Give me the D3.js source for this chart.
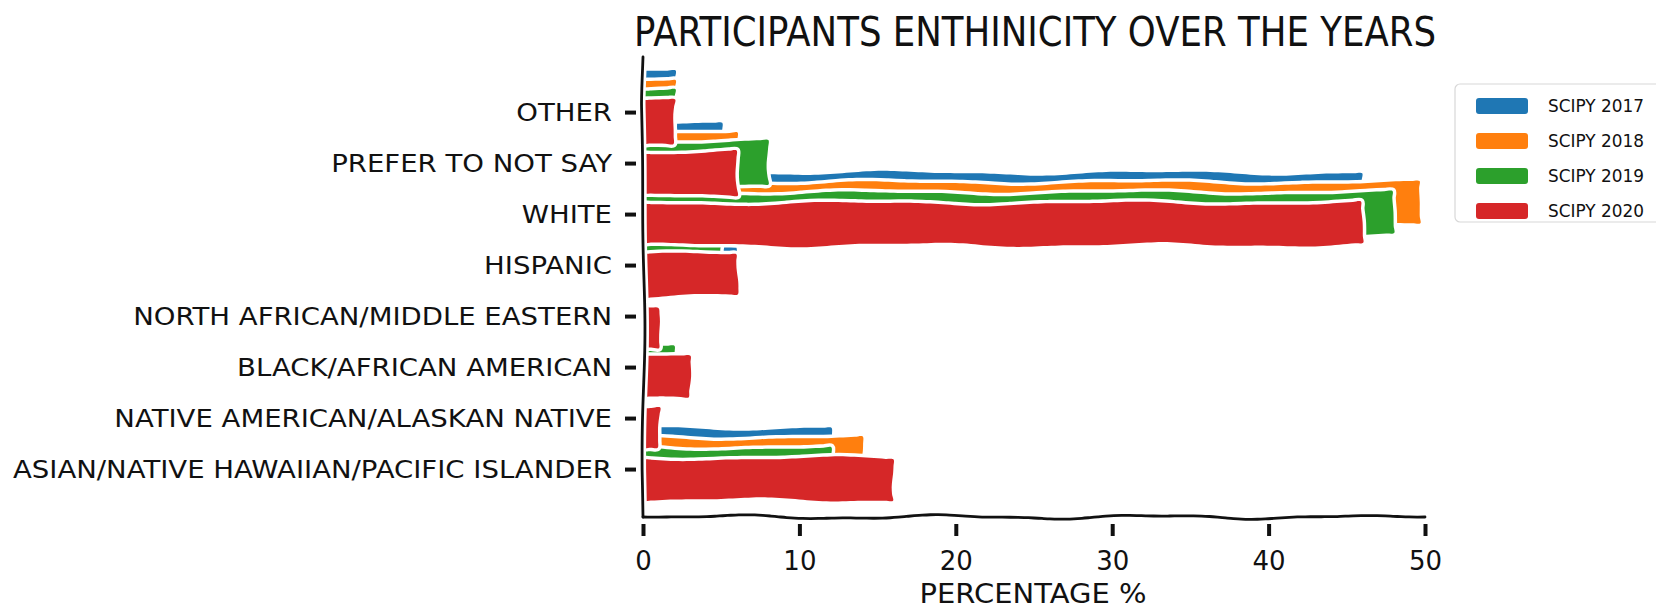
<!DOCTYPE html>
<html>
<head>
<meta charset="utf-8">
<script src="https://cdn.jsdelivr.net/npm/d3@7"></script>
<style>
  html, body { margin: 0; padding: 0; background: #fff; }
  svg { display: block; }
  text { font-family: "DejaVu Sans", sans-serif; fill: #111; }
</style>
</head>
<body>
<svg id="chart" width="1656" height="611"></svg>
<script>
// ---- data (bottom to top, as drawn) ----
const categories = [
  "ASIAN/NATIVE HAWAIIAN/PACIFIC ISLANDER",
  "NATIVE AMERICAN/ALASKAN NATIVE",
  "BLACK/AFRICAN AMERICAN",
  "NORTH AFRICAN/MIDDLE EASTERN",
  "HISPANIC",
  "WHITE",
  "PREFER TO NOT SAY",
  "OTHER"
];
const seriesNames = ["SCIPY 2017", "SCIPY 2018", "SCIPY 2019", "SCIPY 2020"];
const scipy2017 = [12, 0, 1, 0, 6, 46, 5, 2];
const scipy2018 = [14, 0, 1, 0, 4, 49.7, 6, 2];
const scipy2019 = [12, 0, 2, 0, 5, 48, 8, 2];
const scipy2020 = [16, 1, 3, 1, 6, 46, 6, 2];
const xTicks = [0, 10, 20, 30, 40, 50];
const titleText = "PARTICIPANTS ENTHINICITY OVER THE YEARS";
const xLabelText = "PERCENTAGE %";

const seriesValues = [scipy2017, scipy2018, scipy2019, scipy2020];
const colors = ["#1f77b4", "#ff7f0e", "#2ca02c", "#d62728"];

const svg = d3.select("#chart");

// scales
const x = d3.scaleLinear().domain([0, 50]).range([643, 1425]);
const y = d3.scaleLinear().domain([-0.94, 8.08]).range([517, 57]);
const barH = 0.8;
const offsets = [0.4, 0.2, 0.0, -0.2];

// ---- hand-drawn (xkcd-like) smooth wobble, deterministic ----
const TAU = Math.PI * 2;
function wave(t, ph, lam) {
  return 0.7 * Math.sin(TAU * t / lam + ph) + 0.3 * Math.sin(TAU * t / (lam * 0.43) + ph * 1.7);
}
const lineGen = d3.line().curve(d3.curveCatmullRom.alpha(0.5));
function sketchRect(x0, y0, x1, y1, seed) {
  const A = 2.6, B = 1.6;
  const pTop = seed * 2.399, pBot = seed * 1.618 + 1.3, pL = seed * 0.77 + 0.4, pR = seed * 3.1 + 2.2;
  const dY = (px, py) => {
    const f = (py - y0) / Math.max(1, (y1 - y0));
    return (1 - f) * A * wave(px, pTop, 260) + f * A * wave(px, pBot, 240);
  };
  const dX = (px, py) => {
    const g = (px - x0) / Math.max(1, (x1 - x0));
    return (1 - g) * 0.6 * wave(py, pL, 90) + g * B * wave(py, pR, 80);
  };
  const pts = [];
  const push = (px, py) => pts.push([px + dX(px, py), py + dY(px, py)]);
  const step = 8;
  const nW = Math.max(1, Math.ceil((x1 - x0) / step)), nH = Math.max(1, Math.ceil((y1 - y0) / step));
  for (let i = 0; i < nW; i++) push(x0 + (x1 - x0) * i / nW, y0);
  for (let i = 0; i < nH; i++) push(x1, y0 + (y1 - y0) * i / nH);
  for (let i = 0; i < nW; i++) push(x1 - (x1 - x0) * i / nW, y1);
  for (let i = 0; i < nH; i++) push(x0, y1 - (y1 - y0) * i / nH);
  pts.push(pts[0]);
  return lineGen(pts) + "Z";
}
function sketchLine(xa, ya, xb, yb, ph, lam, amp) {
  const len = Math.hypot(xb - xa, yb - ya);
  const n = Math.ceil(len / 8);
  const nx = -(yb - ya) / len, ny = (xb - xa) / len;
  const pts = d3.range(n + 1).map(i => {
    const t = i / n;
    const env = Math.min(1, t * 10, (1 - t) * 10);
    const d = amp * wave(t * len, ph, lam) * env;
    return [xa + (xb - xa) * t + nx * d, ya + (yb - ya) * t + ny * d];
  });
  return lineGen(pts);
}

// bars: each series drawn in turn, later ones over earlier ones
const barsG = svg.append("g");
seriesValues.forEach((vals, s) => {
  const recs = vals.map((v, i) => ({ v, i })).filter(d => d.v > 0);
  barsG.append("g").selectAll("path").data(recs).join("path")
    .attr("d", d => sketchRect(x(0), y(d.i + offsets[s] + barH / 2), x(d.v), y(d.i + offsets[s] - barH / 2), s * 8 + d.i + 1))
    .attr("fill", colors[s])
    .attr("stroke", "#fff")
    .attr("stroke-width", 7)
    .attr("stroke-linejoin", "round")
    .attr("paint-order", "stroke");
});

// axes (spines) with white halo
const axG = svg.append("g");
const yTop = y(8.08), yBot = y(-0.94);
const spinePaths = [
  sketchLine(x(0), yTop, x(0), yBot, 0.8, 420, 2.0),
  sketchLine(x(0), yBot, x(50), yBot, 2.0, 210, 2.4)
];
spinePaths.forEach(d => axG.append("path").attr("d", d).attr("fill", "none")
  .attr("stroke", "#fff").attr("stroke-width", 8).attr("stroke-linecap", "round"));
spinePaths.forEach(d => axG.append("path").attr("d", d).attr("fill", "none")
  .attr("stroke", "#111").attr("stroke-width", 2.8).attr("stroke-linecap", "round"));

// x axis ticks via d3 axis
const xAxis = d3.axisBottom(x).tickValues(xTicks).tickSize(0).tickPadding(0).tickFormat(d3.format("d"));
const gx = svg.append("g").attr("transform", `translate(0,${yBot})`).call(xAxis);
gx.select(".domain").remove();
gx.selectAll(".tick").append("line")
  .attr("y1", 7).attr("y2", 19).attr("stroke", "#111").attr("stroke-width", 4);
gx.selectAll(".tick text").attr("y", 53).attr("dy", null)
  .style("font-size", "26px").style("font-family", "DejaVu Sans, sans-serif").attr("fill", "#111");

// y axis ticks via d3 axis
const yAxis = d3.axisLeft(y).tickValues(d3.range(categories.length)).tickSize(0).tickPadding(0)
  .tickFormat(i => categories[i]);
const gy = svg.append("g").attr("transform", `translate(${x(0)},0)`).call(yAxis);
gy.select(".domain").remove();
gy.selectAll(".tick").append("line")
  .attr("x1", -7).attr("x2", -18).attr("stroke", "#111").attr("stroke-width", 4);
const yLabels = gy.selectAll(".tick text").attr("x", -31).attr("dy", "0.36em")
  .style("font-size", "24px").style("font-family", "DejaVu Sans, sans-serif").attr("fill", "#111");
// condense labels to the reference's proportions
let longest = 0;
yLabels.each(function () { longest = Math.max(longest, this.getComputedTextLength()); });
const kY = 599 / longest;
yLabels.each(function () {
  const w = this.getComputedTextLength();
  d3.select(this).attr("textLength", w * kY).attr("lengthAdjust", "spacingAndGlyphs");
});

// title
svg.append("text").attr("x", 1035).attr("y", 46).attr("text-anchor", "middle")
  .style("font-size", "40px").attr("textLength", 802).attr("lengthAdjust", "spacingAndGlyphs")
  .text(titleText);

// x label
svg.append("text").attr("x", 1033).attr("y", 603).attr("text-anchor", "middle")
  .style("font-size", "26px").attr("textLength", 227).attr("lengthAdjust", "spacingAndGlyphs")
  .text(xLabelText);

// legend
const lg = svg.append("g");
lg.append("rect").attr("x", 1455).attr("y", 84).attr("width", 260).attr("height", 138)
  .attr("rx", 5).attr("fill", "#fff").attr("stroke", "#d8d8d8").attr("stroke-width", 1.2);
const legendY = d3.scalePoint().domain(seriesNames).range([106, 211]);
const items = lg.selectAll("g.item").data(seriesNames).join("g").attr("class", "item")
  .attr("transform", d => `translate(0,${legendY(d)})`);
items.append("rect").attr("x", 1476).attr("y", -8).attr("width", 52).attr("height", 16)
  .attr("rx", 3).attr("fill", (d, i) => colors[i]);
items.append("text").attr("x", 1548).attr("y", 0).attr("dy", "0.36em")
  .style("font-size", "18px").attr("textLength", 96).attr("lengthAdjust", "spacingAndGlyphs")
  .text(d => d);
</script>
</body>
</html>
